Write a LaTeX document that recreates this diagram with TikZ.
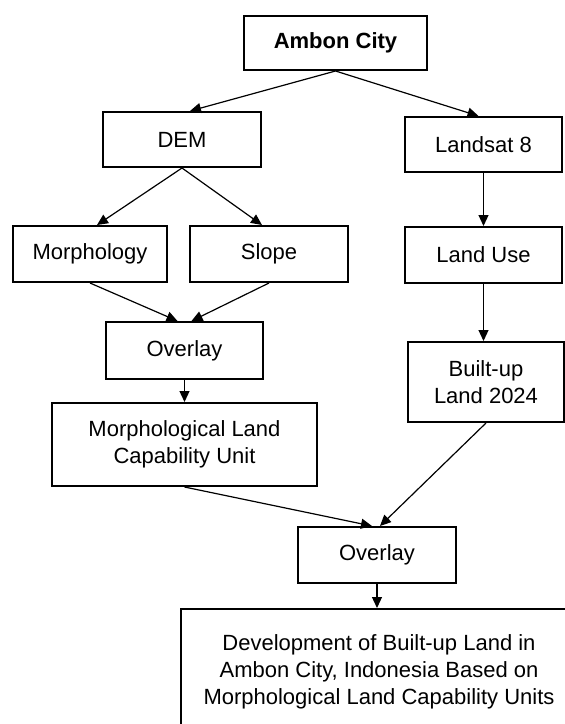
\documentclass[tikz,border=0pt]{standalone}
\usepackage{fontspec}
\setmainfont{Liberation Sans}
\usepackage{tikz}
\usetikzlibrary{arrows.meta}

\begin{document}
\begin{tikzpicture}[x=1pt,y=-1pt,
            box/.style={shape=rectangle, draw, line width=2pt, inner sep=0pt, align=center, font=\fontsize{22}{27.3}\selectfont},
            arr/.style={line width=1.2pt, -{Triangle[length=11pt,width=10pt]}}]
        \useasboundingbox (0,0) rectangle (565,724);
        \clip (0,0) rectangle (565,724);

        \node[box, minimum width=183pt, minimum height=54pt, font=\fontsize{22}{27.3}\selectfont\bfseries] (ambon) at (335.5,43) {Ambon City};

        \node[box, minimum width=158pt, minimum height=55pt] (dem) at (182,139.5) {DEM};
        \node[box, minimum width=157pt, minimum height=55pt] (landsat) at (483.5,144.5) {Landsat 8};

        \node[box, minimum width=154pt, minimum height=56pt] (morph) at (90,254) {Morphology};
        \node[box, minimum width=158pt, minimum height=56pt] (slope) at (269,254) {Slope};
        \node[box, minimum width=157pt, minimum height=56pt] (landuse) at (483.5,255) {Land Use};

        \node[box, minimum width=157pt, minimum height=57pt] (overlayA) at (184.5,350.5) {Overlay};
        \node[box, minimum width=156pt, minimum height=80pt] (builtup) at (486,382) {Built-up\\Land 2024};
        \node[box, minimum width=265pt, minimum height=83pt] (mlcu) at (184.5,444.5) {Morphological Land\\Capability Unit};

        \node[box, minimum width=158pt, minimum height=56pt] (overlayB) at (377,555) {Overlay};
        \node[box, minimum width=396pt, minimum height=126pt] (result) at (379,672) {Development of Built-up Land in\\Ambon City, Indonesia Based on\\Morphological Land Capability Units};

        % left branch
        \draw[arr] (ambon.south) -- ([xshift=8pt]dem.north);
        \draw[arr] (dem.south) -- ([xshift=7pt]morph.north);
        \draw[arr] (dem.south) -- ([xshift=-7pt]slope.north);
        \draw[arr] (morph.south) -- ([xshift=-7pt]overlayA.north);
        \draw[arr] (slope.south) -- ([xshift=7pt]overlayA.north);
        \draw[arr] (overlayA.south) -- (mlcu.north);

        % right branch
        \draw[arr] (ambon.south) -- ([xshift=-5pt]landsat.north);
        \draw[arr] (landsat.south) -- (landuse.north);
        \draw[arr] (landuse.south) -- (landuse.south |- builtup.north);

        \draw[arr] (mlcu.south) -- ([xshift=-5pt]overlayB.north);
        \draw[arr] (builtup.south) -- ([xshift=3pt]overlayB.north);
        \draw[arr] (overlayB.south) -- (overlayB.south |- result.north);
    \end{tikzpicture}
\end{document}
